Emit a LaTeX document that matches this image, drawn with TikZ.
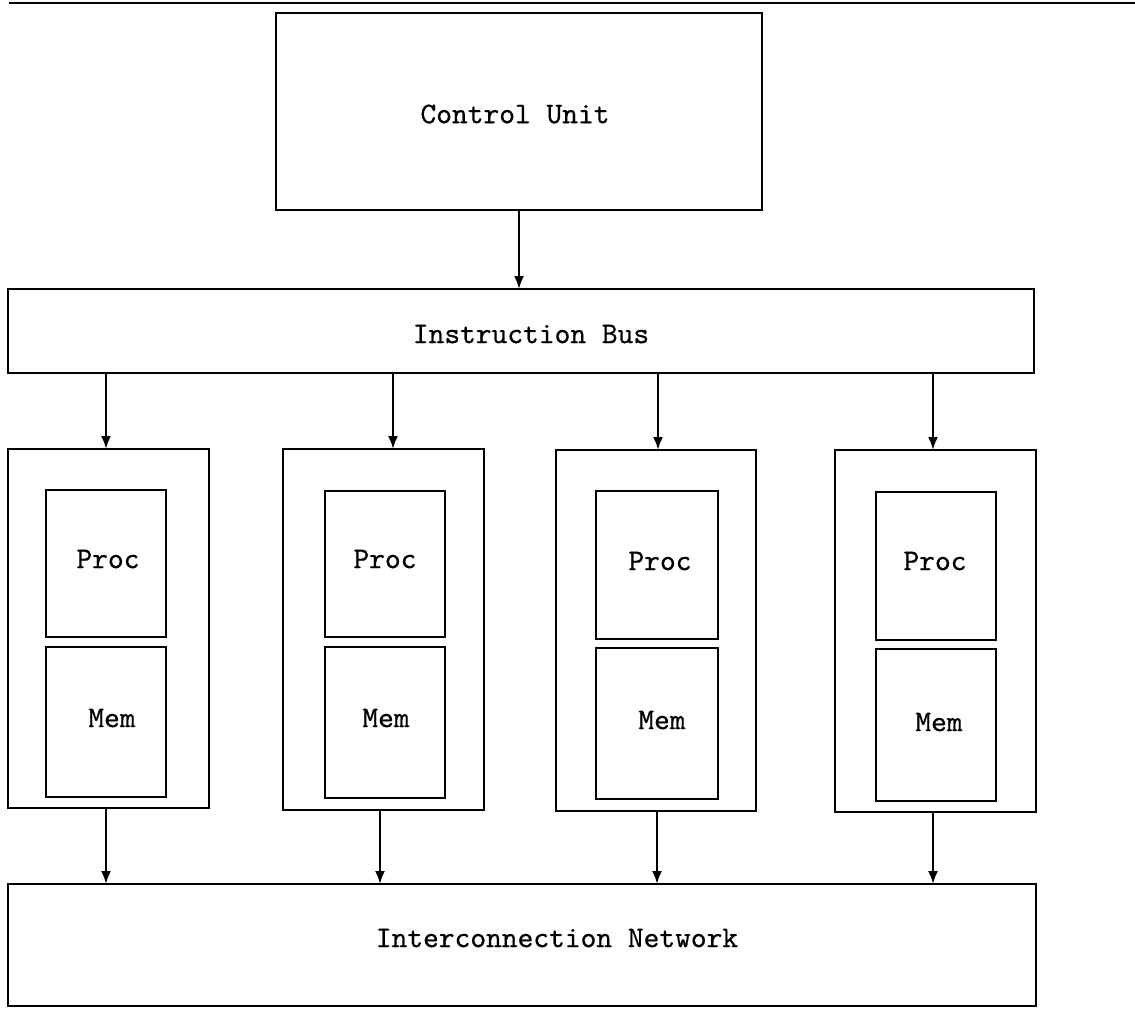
\documentclass[tikz,border=0pt]{standalone}
\usepackage{fontspec}
\usetikzlibrary{arrows.meta}

% typewriter face for all labels
\newfontfamily\labelfont{lmmono10-regular.otf}[FakeBold=0.6]

\tikzset{
  blk/.style={draw, line width=1.4pt, inner sep=0pt, outer sep=0pt},
  txt/.style={font=\fontsize{15}{18}\selectfont\labelfont, inner sep=0pt},
  arr/.style={-{Latex[length=6.5pt,width=5pt]}, line width=1.1pt},
  rule/.style={line width=1.1pt}
}

\begin{document}
\begin{tikzpicture}[x=0.5pt,y=-0.5pt]
  \useasboundingbox (0,0) rectangle (1135,1008);

  % rule along the top
  \coordinate (ruleL) at (9,3);
  \coordinate (ruleR) at (1135,3);
  \draw[rule] (ruleL) -- (ruleR);

  % control unit and instruction bus
  \node[blk, minimum width=243pt, minimum height=98.5pt] (cu) at (519,111.5) {};
  \node[txt] (cuT) at (515,114) {Control Unit};

  \node[blk, minimum width=513pt, minimum height=42pt] (bus) at (521,331) {};
  \node[txt] (busT) at (531,334) {Instruction Bus};

  % processing elements
  \node[blk, minimum width=100.5pt, minimum height=179.5pt] (pe1) at (108.5,628.5) {};
  \node[blk, minimum width=100.5pt, minimum height=180.5pt] (pe2) at (383.5,629.5) {};
  \node[blk, minimum width=100pt,   minimum height=180.5pt] (pe3) at (656,630.5) {};
  \node[blk, minimum width=100.5pt, minimum height=181pt]   (pe4) at (935.5,631) {};

  \node[blk, minimum width=60pt, minimum height=73.5pt] (proc1) at (106,563.5) {};
  \node[blk, minimum width=60pt, minimum height=75pt]   (mem1)  at (106,722) {};
  \node[blk, minimum width=60pt, minimum height=73pt]   (proc2) at (385,564) {};
  \node[blk, minimum width=60pt, minimum height=75.5pt] (mem2)  at (385,722.5) {};
  \node[blk, minimum width=61pt, minimum height=74pt]   (proc3) at (657,565) {};
  \node[blk, minimum width=61pt, minimum height=75.5pt] (mem3)  at (657,723.5) {};
  \node[blk, minimum width=60pt, minimum height=74pt]   (proc4) at (936,566) {};
  \node[blk, minimum width=60pt, minimum height=76pt]   (mem4)  at (936,725) {};

  \node[txt] (proc1T) at (108,559) {Proc};
  \node[txt] (mem1T)  at (112,718) {Mem};
  \node[txt] (proc2T) at (385,559) {Proc};
  \node[txt] (mem2T)  at (386,718) {Mem};
  \node[txt] (proc3T) at (660,561) {Proc};
  \node[txt] (mem3T)  at (662,720) {Mem};
  \node[txt] (proc4T) at (935,561) {Proc};
  \node[txt] (mem4T)  at (939,722) {Mem};

  % interconnection network
  \node[blk, minimum width=514pt, minimum height=61pt] (net) at (522,945) {};
  \node[txt] (netT) at (557,938) {Interconnection Network};

  % connectors
  \draw[arr] (519,0 |- cu.south) -- (519,0 |- bus.north);

  \draw[arr] (106,0 |- bus.south) -- (106,0 |- pe1.north);
  \draw[arr] (393,0 |- bus.south) -- (393,0 |- pe2.north);
  \draw[arr] (658,0 |- bus.south) -- (658,0 |- pe3.north);
  \draw[arr] (933,0 |- bus.south) -- (933,0 |- pe4.north);

  \draw[arr] (106,0 |- pe1.south) -- (106,0 |- net.north);
  \draw[arr] (380,0 |- pe2.south) -- (380,0 |- net.north);
  \draw[arr] (657,0 |- pe3.south) -- (657,0 |- net.north);
  \draw[arr] (933,0 |- pe4.south) -- (933,0 |- net.north);
\end{tikzpicture}
\end{document}
